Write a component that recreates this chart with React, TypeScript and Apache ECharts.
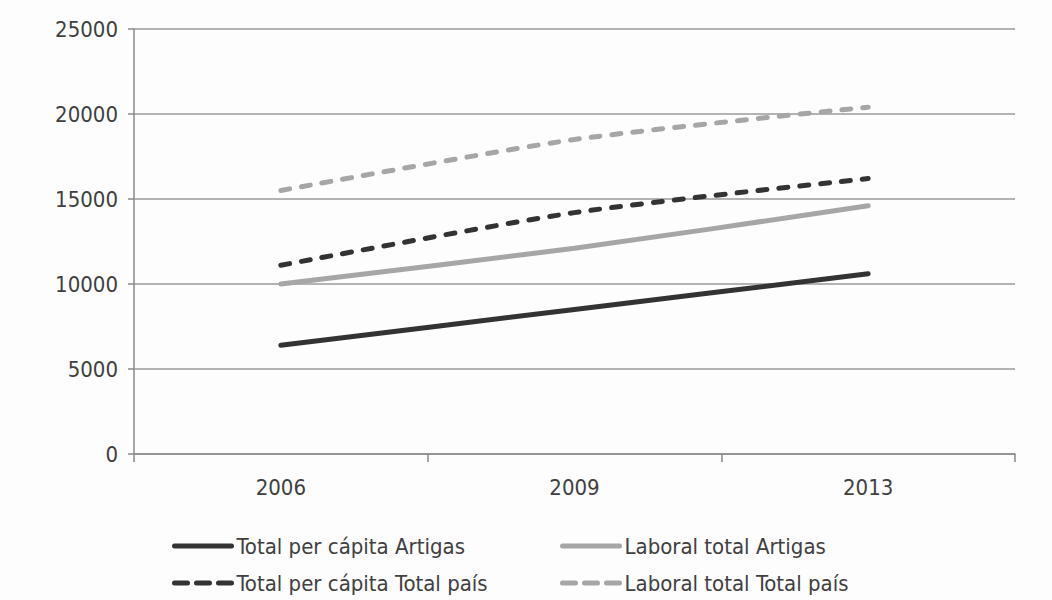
import React, { useEffect, useRef } from "react";
import * as echarts from "echarts";

const years = ["2006", "2009", "2013"];
const totalPerCapitaArtigas = [6400, 8500, 10600];
const laboralTotalArtigas = [10000, 12100, 14600];
const totalPerCapitaPais = [11100, 14200, 16200];
const laboralTotalPais = [15500, 18500, 20400];

const FONT = "'Liberation Sans Narrow', 'DejaVu Sans Condensed', 'Roboto', sans-serif";
const DARK = "#333333";
const LIGHT = "#a6a6a6";
const TEXT = "#404040";
const FS = 22;

export default function App() {
  const ref = useRef<HTMLDivElement>(null);
  useEffect(() => {
    if (!ref.current) return;
    const chart = echarts.init(ref.current, null, { renderer: "svg" });
    const mk = (name: string, data: number[], color: string, dashed: boolean) => ({
      name,
      type: "line",
      data,
      smooth: 0.25,
      symbol: "none",
      lineStyle: { color, width: 5, type: dashed ? [9, 12] : "solid", cap: "round" },
      itemStyle: { color },
    });
    const leg = (name: string, left: number, top: number, dashed: boolean) => ({
      orient: "horizontal",
      left,
      top,
      padding: 0,
      itemHeight: 6,
      itemWidth: 57,
      itemStyle: { opacity: 0 },
      lineStyle: dashed
        ? { width: 5, cap: "round", type: [13, 9] }
        : { width: 5, cap: "round", type: "solid" },
      textStyle: { color: TEXT, fontSize: FS, fontFamily: FONT, lineHeight: 28 },
      data: [name],
    });
    chart.setOption({
      animation: false,
      backgroundColor: "#fdfdfd",
      textStyle: { fontFamily: FONT },
      grid: { left: 134, right: 37, top: 29, bottom: 146 },
      xAxis: {
        type: "category",
        data: years,
        boundaryGap: true,
        axisLine: { lineStyle: { color: "#8a8a8a", width: 1.5 } },
        axisTick: { show: true, length: 8, lineStyle: { color: "#8a8a8a", width: 1.5 } },
        axisLabel: { color: TEXT, fontSize: FS, margin: 22, fontFamily: FONT },
      },
      yAxis: {
        type: "value",
        min: 0,
        max: 25000,
        interval: 5000,
        axisLine: { show: true, lineStyle: { color: "#8a8a8a", width: 1.5 } },
        axisTick: { show: true, length: 6, lineStyle: { color: "#8a8a8a", width: 1.5 } },
        splitLine: { lineStyle: { color: "#9a9a9a", width: 1.5 } },
        axisLabel: {
          color: TEXT,
          fontSize: FS,
          margin: 16,
          fontFamily: FONT,
          formatter: (v: number) => String(v),
        },
      },
      legend: [
        leg("Total per cápita Artigas", 172, 532, false),
        leg("Total per cápita Total país", 172, 569, true),
        leg("Laboral total Artigas", 560, 532, false),
        leg("Laboral total Total país", 560, 569, true),
      ],
      series: [
        mk("Total per cápita Artigas", totalPerCapitaArtigas, DARK, false),
        mk("Laboral total Artigas", laboralTotalArtigas, LIGHT, false),
        mk("Total per cápita Total país", totalPerCapitaPais, DARK, true),
        mk("Laboral total Total país", laboralTotalPais, LIGHT, true),
      ],
    });
    return () => chart.dispose();
  }, []);
  return (
    <div
      ref={ref}
      style={{ position: "absolute", left: 0, top: 0, width: 1052, height: 600 }}
    />
  );
}
